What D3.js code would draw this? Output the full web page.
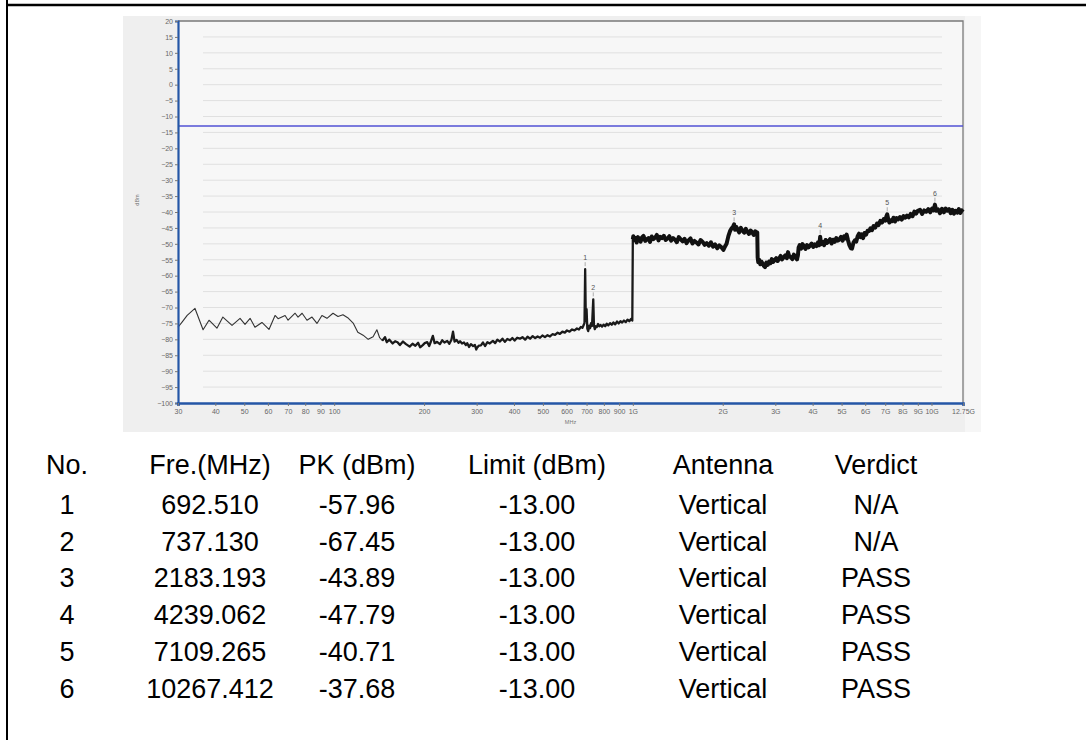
<!DOCTYPE html>
<html>
<head>
<meta charset="utf-8">
<script src="https://cdn.jsdelivr.net/npm/d3@7"></script>
<style>
  html, body { margin: 0; padding: 0; background: #ffffff; }
  svg { display: block; }
</style>
</head>
<body>
<svg id="page" width="1086" height="740"></svg>
<script>
// ---- Measurement trace (frequency in MHz, peak level in dBm) ----
const traceFreq = [
  30, 31, 32.2, 34.2, 36.4, 38.1, 40.5, 42.4, 45.5, 48.4, 50.3, 52.3, 54.3, 57.3, 60.5, 63.4, 64.9, 68.5, 70.1, 74.0,
  75.7, 78.1, 81.1, 84.3, 87.6, 91.0, 94.6, 99.1, 103, 107, 111, 116, 120, 125, 130, 135, 139, 142,
  145, 148, 150, 153, 157, 160, 163, 166, 170, 174, 179, 183, 187, 191, 194, 198, 201, 205, 208, 211, 214, 217,
  221, 226, 230, 234, 239, 243, 247, 250, 253, 257, 261, 264, 268, 272, 276, 279, 283, 287, 292, 296, 299, 301,
  305, 310, 315, 320, 326, 332, 340, 346, 352, 359, 366, 373, 380, 388, 395, 402, 410, 419, 427, 436,
  444, 453, 462, 471, 480, 489, 498, 508, 518, 528, 538, 549, 560, 570, 581, 592, 602, 614, 626, 638,
  650, 660, 670, 678, 684, 689, 692.51, 696, 700, 704, 709, 714, 719, 725, 730, 737.13, 741, 746, 752, 758,
  765, 772, 780, 789, 798, 808, 818, 828, 839, 850, 861, 873, 885, 897, 909, 921, 934, 947, 960, 973,
  986, 996, 1000,
  1004, 1012, 1020, 1030, 1040, 1050, 1062, 1074, 1086, 1100, 1114, 1128, 1142, 1157, 1172, 1187, 1203, 1219, 1235, 1252,
  1270, 1288, 1306, 1325, 1344, 1364, 1384, 1404, 1425, 1446, 1468, 1490, 1513, 1536, 1560, 1584, 1609, 1634, 1660, 1686,
  1713, 1740, 1768, 1797, 1826, 1856, 1886, 1917, 1948, 1980, 2010, 2036, 2060, 2090, 2116, 2140, 2165, 2183.193, 2200, 2220,
  2245, 2270, 2300, 2330, 2360, 2390, 2420, 2450, 2480, 2510, 2540, 2570, 2595, 2610, 2618, 2630, 2650, 2672, 2695, 2720,
  2745, 2771, 2800, 2830, 2860, 2890, 2920, 2950, 2985, 3020, 3055, 3090, 3125, 3160, 3200, 3240, 3280, 3308, 3340, 3380,
  3420, 3460, 3500, 3545, 3570, 3590, 3620, 3660, 3700, 3740, 3785, 3830, 3875, 3920, 3970, 4020, 4070, 4120, 4170, 4210,
  4239.062, 4270, 4320, 4370, 4420, 4470, 4520, 4575, 4630, 4685, 4740, 4800, 4860, 4920, 4980, 5040, 5100, 5150, 5200, 5255,
  5310, 5370, 5420, 5480, 5540, 5600, 5660, 5720, 5780, 5840, 5900, 5970, 6040, 6110, 6180, 6250, 6320, 6400, 6480, 6570,
  6650, 6740, 6830, 6920, 7010, 7060, 7109.265, 7160, 7230, 7300, 7380, 7460, 7550, 7640, 7740, 7845, 7950, 8060, 8170, 8280,
  8400, 8520, 8640, 8760, 8880, 9000, 9150, 9300, 9450, 9600, 9750, 9900, 10050, 10160, 10267.412, 10380, 10520, 10680, 10840, 11000,
  11150, 11300, 11450, 11600, 11750, 11900, 12050, 12200, 12350, 12500, 12620, 12750
];
const traceLevel = [
  -76.2, -74.5, -72.5, -70.3, -77.0, -74.0, -76.5, -73.0, -75.6, -73.4, -75.3, -73.4, -76.2, -74.7, -76.9, -72.5, -73.5, -72.5, -74.0, -71.8,
  -73.0, -71.8, -74.0, -73.0, -75.0, -72.5, -73.4, -71.8, -72.8, -72.3, -73.2, -75.0, -77.8, -78.7, -80.0, -79.2, -77.0, -79.5,
  -80.4, -79.3, -80.9, -80.1, -81.3, -80.6, -80.9, -81.8, -80.7, -81.5, -82.3, -81.4, -82.0, -81.1, -82.5, -81.8, -81.2, -80.9, -82.1, -80.6, -78.9, -81.2,
  -80.8, -81.5, -80.3, -81.0, -80.5, -81.4, -80.1, -77.6, -80.7, -80.2, -81.1, -80.6, -81.3, -81.0, -81.8, -81.2, -82.4, -81.5, -82.1, -81.8, -83.2, -82.6,
  -82.0, -81.9, -81.0, -82.1, -80.9, -81.3, -80.5, -81.2, -80.1, -80.7, -79.8, -80.8, -79.9, -80.3, -79.6, -80.4, -79.5, -79.8, -79.3, -80.1,
  -79.2, -79.8, -79.0, -79.6, -79.1, -79.5, -78.8, -79.3, -78.7, -79.1, -78.4, -78.6, -77.9, -78.3, -77.6, -77.9, -77.2, -77.6, -76.9, -77.2,
  -76.6, -76.9, -76.1, -76.4, -75.6, -74.8, -57.96, -74.2, -70.5, -76.6, -77.4, -75.7, -76.5, -74.9, -75.8, -67.45, -75.6, -76.8, -75.9, -76.1,
  -75.2, -75.9, -75.5, -76.0, -75.4, -75.9, -75.1, -75.6, -74.9, -75.4, -74.7, -75.3, -74.4, -75.0, -74.3, -74.7, -74.1, -74.6, -73.8, -74.3,
  -73.6, -74.1, -48.6,
  -47.6, -48.9, -48.1, -49.6, -47.9, -48.4, -49.3, -48.0, -47.5, -49.1, -48.6, -48.2, -49.4, -47.7, -48.5, -48.1, -47.2, -48.9, -47.8, -48.2,
  -47.5, -48.8, -48.3, -47.6, -49.0, -48.2, -48.7, -49.5, -47.9, -48.6, -49.2, -48.4, -49.8, -48.9, -48.3, -49.9, -49.1, -49.6, -50.2, -48.8,
  -49.4, -50.3, -49.8, -50.6, -49.5, -50.9, -50.2, -51.4, -50.5, -51.1, -51.9, -50.8, -50.0, -47.5, -46.0, -45.2, -44.6, -43.89, -45.6, -44.7,
  -45.5, -46.4, -45.0, -45.9, -46.5, -45.3, -46.2, -46.9, -45.8, -46.4, -47.2, -46.1, -46.8, -46.4, -54.3, -55.8, -55.0, -56.4, -55.6, -56.2,
  -56.9, -57.3, -55.9, -56.6, -55.6, -56.1, -54.8, -55.7, -55.1, -54.5, -55.4, -54.6, -53.8, -54.9, -54.2, -53.6, -54.5, -52.6, -53.9, -54.2,
  -54.8, -53.4, -54.1, -54.9, -53.7, -51.2, -50.4, -51.5, -50.1, -50.8, -51.6, -50.4, -51.1, -50.6, -49.9, -51.0, -50.2, -50.7, -49.5, -50.4,
  -47.79, -50.1, -49.4, -50.4, -48.8, -49.7, -49.2, -48.5, -49.9, -48.7, -49.4, -48.2, -49.0, -48.6, -47.8, -49.0, -47.6, -48.3, -47.1, -48.9,
  -50.4, -51.4, -51.5, -49.6, -48.9, -49.3, -47.6, -46.8, -47.9, -47.0, -48.2, -46.6, -47.1, -45.9, -46.0, -45.1, -45.7, -44.4, -44.9, -43.6,
  -44.1, -42.8, -43.3, -42.2, -42.7, -41.4, -40.71, -42.2, -43.3, -42.6, -42.9, -41.8, -43.0, -41.9, -42.3, -41.6, -42.4, -41.3, -41.8, -41.1,
  -41.7, -40.6, -41.3, -39.9, -40.5, -39.6, -39.3, -40.6, -39.5, -39.9, -39.1, -40.1, -38.9, -39.5, -37.68, -39.6, -39.2, -40.4, -39.0, -40.1,
  -38.9, -39.6, -39.1, -40.4, -39.3, -40.5, -39.6, -40.2, -39.1, -40.3, -39.5, -40.0
];

// ---- Axis ticks ----
const yTicks = [20, 15, 10, 5, 0, -5, -10, -15, -20, -25, -30, -35, -40, -45, -50, -55, -60, -65, -70, -75, -80, -85, -90, -95, -100];
const xTickValues = [30, 40, 50, 60, 70, 80, 90, 100, 200, 300, 400, 500, 600, 700, 800, 900, 1000,
                     2000, 3000, 4000, 5000, 6000, 7000, 8000, 9000, 10000, 12750];
const xTickLabels = ["30", "40", "50", "60", "70", "80", "90", "100", "200", "300", "400", "500", "600", "700", "800", "900", "1G",
                     "2G", "3G", "4G", "5G", "6G", "7G", "8G", "9G", "10G", "12.75G"];

// ---- Marker table ----
const markerNo = [1, 2, 3, 4, 5, 6];
const markerFreq = [692.510, 737.130, 2183.193, 4239.062, 7109.265, 10267.412];
const markerPk = [-57.96, -67.45, -43.89, -47.79, -40.71, -37.68];
const markerLimit = [-13.00, -13.00, -13.00, -13.00, -13.00, -13.00];
const markerAntenna = ["Vertical", "Vertical", "Vertical", "Vertical", "Vertical", "Vertical"];
const markerVerdict = ["N/A", "N/A", "PASS", "PASS", "PASS", "PASS"];
const tableHeaders = ["No.", "Fre.(MHz)", "PK (dBm)", "Limit (dBm)", "Antenna", "Verdict"];

const svg = d3.select("#page");
const FONT = "Liberation Sans, Arial, sans-serif";

// Page frame
svg.append("line").attr("x1", 7).attr("x2", 7).attr("y1", 0).attr("y2", 740)
  .attr("stroke", "#000").attr("stroke-width", 2);
svg.append("line").attr("x1", 6).attr("x2", 1086).attr("y1", 5).attr("y2", 5)
  .attr("stroke", "#000").attr("stroke-width", 2.4);

// ---- Spectrum chart ----
const chart = svg.append("g");
const plot = { left: 178, right: 963, top: 21, bottom: 403 };

chart.append("rect").attr("x", 123).attr("y", 16).attr("width", 858).attr("height", 416)
  .attr("fill", "#efefef");
chart.append("rect").attr("x", 965).attr("y", 16).attr("width", 16).attr("height", 416)
  .attr("fill", "#f6f6f6");
chart.append("rect").attr("x", plot.left).attr("y", plot.top)
  .attr("width", plot.right - plot.left).attr("height", plot.bottom - plot.top)
  .attr("fill", "#f7f7f7");

const x = d3.scaleLog().domain([30, 12750]).range([plot.left, plot.right]);
const y = d3.scaleLinear().domain([-100, 20]).range([plot.bottom, plot.top]);

// horizontal grid
chart.append("g").selectAll("line")
  .data(yTicks.filter(v => v !== 20 && v !== -100))
  .join("line")
  .attr("x1", plot.left + 25).attr("x2", plot.right - 21)
  .attr("y1", d => y(d)).attr("y2", d => y(d))
  .attr("stroke", "#e0e0e0").attr("stroke-width", 1);

// top / right border
chart.append("path")
  .attr("d", `M${plot.left},${plot.top}H${plot.right}V${plot.bottom}`)
  .attr("fill", "none").attr("stroke", "#7a7a7a").attr("stroke-width", 1.3);

// limit line
chart.append("line")
  .attr("x1", plot.left).attr("x2", plot.right)
  .attr("y1", y(markerLimit[0])).attr("y2", y(markerLimit[0]))
  .attr("stroke", "#5252d4").attr("stroke-width", 1.6);

// trace: thin below 150 MHz, denser sweep up to 1 GHz, heavy band above 1 GHz
const pts = traceFreq.map((f, i) => [f, traceLevel[i]]);
const line = d3.line().x(d => x(d[0])).y(d => y(d[1]));
chart.append("path").datum(pts.filter(d => d[0] <= 150))
  .attr("d", line).attr("fill", "none")
  .attr("stroke", "#333").attr("stroke-width", 1.1).attr("stroke-linejoin", "round");
chart.append("path").datum(pts.filter(d => d[0] >= 145 && d[0] <= 1000))
  .attr("d", line).attr("fill", "none")
  .attr("stroke", "#1a1a1a").attr("stroke-width", 2.3).attr("stroke-linejoin", "round");
chart.append("path").datum(pts.filter(d => d[0] >= 1000))
  .attr("d", line).attr("fill", "none")
  .attr("stroke", "#111").attr("stroke-width", 4.0).attr("stroke-linejoin", "round");

// marker labels
const mk = chart.append("g");
markerNo.forEach((n, i) => {
  const mx = x(markerFreq[i]), my = y(markerPk[i]);
  mk.append("line").attr("x1", mx).attr("x2", mx).attr("y1", my - 7).attr("y2", my - 3)
    .attr("stroke", "#999").attr("stroke-width", 0.8);
  mk.append("text").attr("x", mx).attr("y", my - 9)
    .attr("text-anchor", "middle").attr("font-family", FONT)
    .attr("font-size", 7).attr("fill", "#555").text(n);
});

// y axis
const yAxis = d3.axisLeft(y).tickValues(yTicks).tickSize(3).tickPadding(2).tickFormat(d3.format("d"));
const gy = chart.append("g").attr("transform", `translate(${plot.left},0)`).call(yAxis);
gy.select(".domain").attr("stroke", "#2456a6").attr("stroke-width", 2.2);
gy.selectAll(".tick line").attr("stroke", "#777");
gy.selectAll(".tick text").attr("font-size", 7).attr("fill", "#666").attr("font-family", FONT);

// x axis
const xAxis = d3.axisBottom(x).tickValues(xTickValues).tickSize(3).tickPadding(3)
  .tickFormat((d, i) => xTickLabels[i]);
const gx = chart.append("g").attr("transform", `translate(0,${plot.bottom})`).call(xAxis);
gx.select(".domain").attr("stroke", "#2456a6").attr("stroke-width", 2.6);
gx.selectAll(".tick line").attr("stroke", "#777");
gx.selectAll(".tick text").attr("font-size", 7).attr("fill", "#666").attr("font-family", FONT);

chart.append("text").attr("x", (plot.left + plot.right) / 2).attr("y", 424)
  .attr("text-anchor", "middle").attr("font-size", 5.5).attr("fill", "#777")
  .attr("font-family", FONT).text("MHz");
chart.append("text").attr("transform", "translate(139,200) rotate(-90)")
  .attr("text-anchor", "middle").attr("font-size", 5.5).attr("fill", "#777")
  .attr("font-family", FONT).text("dBm");

// ---- Result table ----
const colX = [67, 210, 357, 537, 723, 876];
const headY = 474;
const rowY = [514, 551, 587, 624, 661, 698];
const table = svg.append("g")
  .attr("font-family", FONT)
  .attr("font-size", 27).attr("fill", "#000").attr("text-anchor", "middle");
tableHeaders.forEach((h, c) => {
  table.append("text").attr("x", colX[c]).attr("y", headY).text(h);
});
markerNo.forEach((n, i) => {
  const cells = [String(n), markerFreq[i].toFixed(3), markerPk[i].toFixed(2),
                 markerLimit[i].toFixed(2), markerAntenna[i], markerVerdict[i]];
  cells.forEach((t, c) => {
    table.append("text").attr("x", colX[c]).attr("y", rowY[i]).text(t);
  });
});
</script>
</body>
</html>
